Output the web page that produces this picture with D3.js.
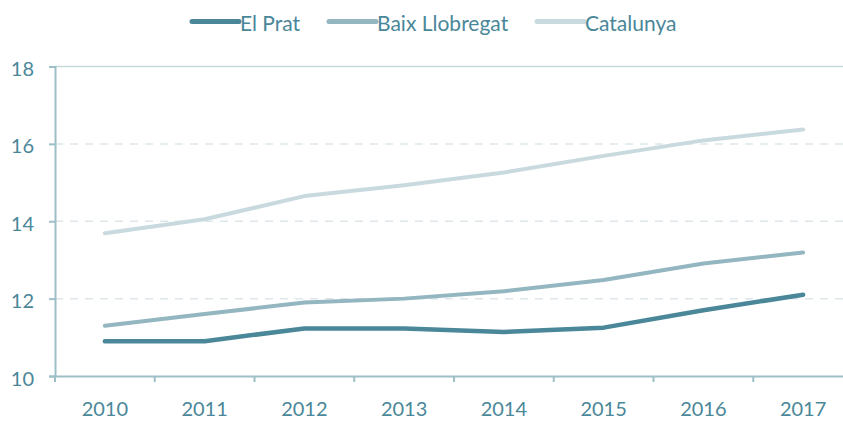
<!DOCTYPE html>
<html>
<head>
    <script src="https://d3js.org/d3.v7.min.js"></script>
    <style>
        body { margin: 0; background: #fff; }
        text { font-family: 'Lato', sans-serif; fill: #4a8799; }
    </style>
</head>
<body>
    <svg width="843" height="421"></svg>
    <script>
        // data
        const years = ["2010", "2011", "2012", "2013", "2014", "2015", "2016", "2017"];
        const elPrat = [10.90, 10.90, 11.23, 11.23, 11.14, 11.25, 11.70, 12.10];
        const baixLlobregat = [11.30, 11.60, 11.90, 12.00, 12.19, 12.48, 12.91, 13.19];
        const catalunya = [13.69, 14.05, 14.65, 14.93, 15.26, 15.69, 16.09, 16.37];
        const yTicks = [10, 12, 14, 16, 18];

        const series = [
            {name: "El Prat", values: elPrat, color: "#4a8799", width: 4.5},
            {name: "Baix Llobregat", values: baixLlobregat, color: "#93b6c0", width: 4},
            {name: "Catalunya", values: catalunya, color: "#c9dadf", width: 4}
        ];

        const svg = d3.select("svg");
        const axisColor = "#9dbfc8";

        const x = d3.scaleBand().domain(years).range([55, 853]);
        const y = d3.scaleLinear().domain([10, 18]).range([376, 66.5]);

        // dashed grid
        svg.append("g").selectAll("line")
           .data(yTicks.filter(d => d > 10 && d < 18))
           .join("line")
           .attr("x1", 55).attr("x2", 843)
           .attr("y1", d => y(d)).attr("y2", d => y(d))
           .attr("stroke", "#dde7eb")
           .attr("stroke-width", 1.5)
           .attr("stroke-dasharray", "8,7");

        // top line at 18
        svg.append("line")
           .attr("x1", 55).attr("x2", 843)
           .attr("y1", y(18)).attr("y2", y(18))
           .attr("stroke", "#c9dadf").attr("stroke-width", 1.5);

        // y axis
        const yAxis = svg.append("g")
           .attr("transform", "translate(55,0)")
           .call(d3.axisLeft(y).tickValues(yTicks).tickSize(6).tickPadding(15));
        yAxis.select(".domain").attr("stroke", axisColor).attr("stroke-width", 2);
        yAxis.selectAll(".tick line").attr("stroke", axisColor).attr("stroke-width", 2);
        yAxis.selectAll("text").style("font-size", "20px").attr("fill", "#4a8799").attr("dy", "0.45em");

        // x axis, ticks between bands
        const xAxis = svg.append("g")
           .attr("transform", `translate(0,${y(10)})`)
           .call(d3.axisBottom(x).tickSize(0).tickPadding(26));
        xAxis.select(".domain").attr("stroke", axisColor).attr("stroke-width", 2);
        xAxis.selectAll("text").style("font-size", "20px").attr("fill", "#4a8799");
        xAxis.selectAll(".bnd")
           .data(years)
           .join("line")
           .attr("x1", d => x(d)).attr("x2", d => x(d))
           .attr("y1", 0).attr("y2", 6)
           .attr("stroke", axisColor).attr("stroke-width", 2);

        const line = d3.line()
            .x((d, i) => x(years[i]) + x.bandwidth() / 2)
            .y(d => y(d));

        // draw back to front
        series.slice().reverse().forEach(s => {
            svg.append("path")
               .datum(s.values)
               .attr("d", line)
               .attr("fill", "none")
               .attr("stroke", s.color)
               .attr("stroke-width", s.width)
               .attr("stroke-linecap", "round")
               .attr("stroke-linejoin", "round");
        });

        // legend
        const legendX = [192, 329, 537];
        const legend = svg.append("g");
        series.forEach((s, i) => {
            legend.append("line")
               .attr("x1", legendX[i]).attr("x2", legendX[i] + 47)
               .attr("y1", 21.5).attr("y2", 21.5)
               .attr("stroke", s.color)
               .attr("stroke-width", 5)
               .attr("stroke-linecap", "round");
            legend.append("text")
               .attr("x", legendX[i] + 48)
               .attr("y", 30.5)
               .style("font-size", "21px")
               .text(s.name);
        });
    </script>
</body>
</html>
